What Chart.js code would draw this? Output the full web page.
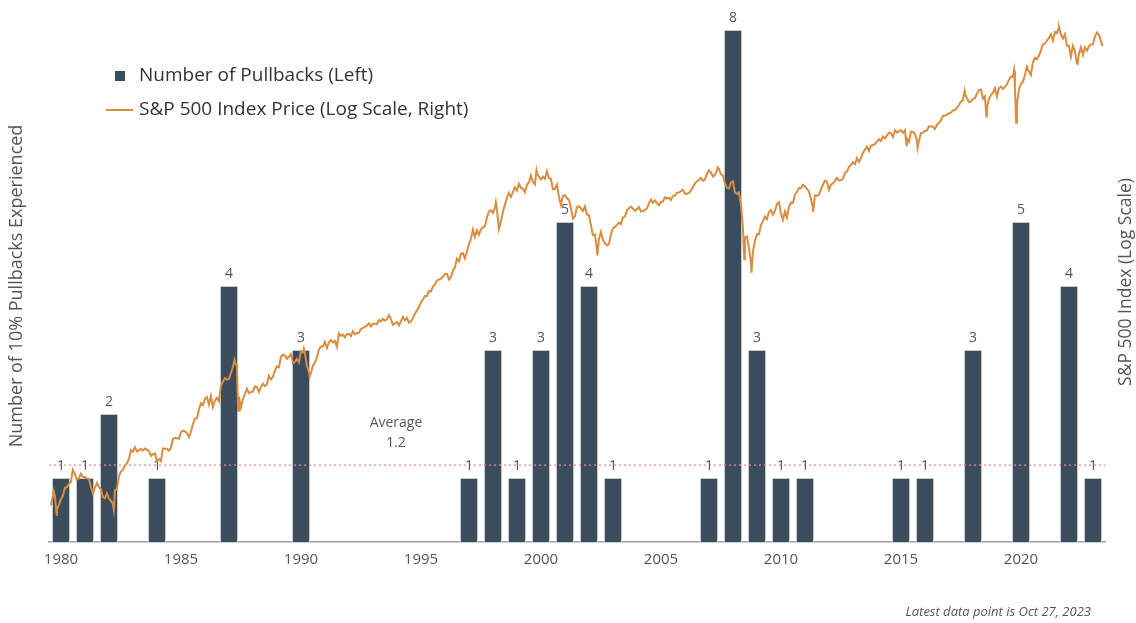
<!DOCTYPE html>
<html>
<head>
<meta charset="utf-8">
<title>10% Pullbacks and the S&amp;P 500</title>
<script src="https://cdn.jsdelivr.net/npm/chart.js@4.4.0/dist/chart.umd.min.js"></script>
<style>
html, body { margin: 0; padding: 0; background: #fff; }
#chartBox { position: relative; width: 1136px; height: 623px; }
</style>
</head>
<body>
<div id="chartBox"><canvas id="pullbackChart"></canvas></div>
<script>
/* categories */
var years = [1980, 1981, 1982, 1983, 1984, 1985, 1986, 1987, 1988, 1989,
	1990, 1991, 1992, 1993, 1994, 1995, 1996, 1997, 1998, 1999,
	2000, 2001, 2002, 2003, 2004, 2005, 2006, 2007, 2008, 2009,
	2010, 2011, 2012, 2013, 2014, 2015, 2016, 2017, 2018, 2019,
	2020, 2021, 2022, 2023];

/* number of 10% pullbacks per year (left axis) */
var pullbacks = [1, 1, 2, 0, 1, 0, 0, 4, 0, 0,
	3, 0, 0, 0, 0, 0, 0, 1, 3, 1,
	3, 5, 4, 1, 0, 0, 0, 1, 8, 3,
	1, 1, 0, 0, 0, 1, 1, 0, 3, 0,
	5, 0, 4, 1];

var averagePullbacks = 1.2;

/* S&P 500 month-end closes, Jan 1980 .. Sep 2023 (right axis, log) */
var spxMonthEnd = [
	114.2, 113.7, 102.1, 106.3, 111.2, 114.2, 121.7, 122.4, 125.5, 127.5, 140.5, 135.8,
	129.6, 131.3, 136.0, 132.8, 132.6, 131.2, 130.9, 122.8, 116.2, 121.9, 126.4, 122.6,
	120.4, 113.1, 112.0, 116.4, 111.9, 109.6, 107.1, 119.5, 120.4, 133.7, 138.5, 140.6,
	145.3, 148.1, 153.0, 164.4, 162.4, 168.1, 162.6, 164.4, 166.1, 163.6, 166.4, 164.9,
	163.4, 157.1, 159.2, 160.1, 150.6, 153.2, 150.7, 166.7, 166.1, 166.1, 163.6, 167.2,
	179.6, 181.2, 180.7, 179.8, 189.6, 191.9, 190.9, 188.6, 182.1, 189.8, 202.2, 211.3,
	211.8, 226.9, 238.9, 235.5, 247.4, 250.8, 236.1, 252.9, 231.3, 244.0, 249.2, 242.2,
	274.1, 284.2, 291.7, 288.4, 290.1, 304.0, 318.7, 329.8, 321.8, 251.8, 230.3, 247.1,
	257.1, 267.8, 258.9, 261.3, 262.2, 273.5, 272.0, 261.5, 271.9, 279.0, 273.7, 277.7,
	297.5, 288.9, 294.9, 309.6, 320.5, 318.0, 346.1, 351.5, 349.2, 340.4, 346.0, 353.4,
	329.1, 331.9, 339.9, 330.8, 361.2, 358.0, 356.2, 322.6, 306.1, 304.0, 322.2, 330.2,
	343.9, 367.1, 375.2, 375.3, 389.8, 371.2, 387.8, 395.4, 387.9, 392.5, 375.2, 417.1,
	408.8, 412.7, 403.7, 415.0, 415.4, 408.1, 424.2, 414.0, 417.8, 418.7, 431.4, 435.7,
	438.8, 443.4, 451.7, 440.2, 450.2, 450.5, 448.1, 463.6, 458.9, 467.8, 461.8, 466.5,
	481.6, 467.1, 445.8, 450.9, 456.5, 444.3, 458.3, 475.5, 462.7, 472.4, 453.7, 459.3,
	470.4, 487.4, 500.7, 514.7, 533.4, 544.8, 562.1, 561.9, 584.4, 581.5, 605.4, 615.9,
	636.0, 640.4, 645.5, 654.2, 669.1, 670.6, 640.0, 652.0, 687.3, 705.3, 757.0, 740.7,
	786.2, 790.8, 757.1, 801.3, 848.3, 885.1, 954.3, 899.5, 947.3, 914.6, 955.4, 970.4,
	980.3, 1049.3, 1101.8, 1111.8, 1090.8, 1133.8, 1120.7, 957.3, 1017.0, 1098.7, 1163.6, 1229.2,
	1279.6, 1238.3, 1286.4, 1335.2, 1301.8, 1372.7, 1328.7, 1320.4, 1282.7, 1362.9, 1388.9, 1469.3,
	1394.5, 1366.4, 1498.6, 1452.4, 1420.6, 1454.6, 1430.8, 1517.7, 1436.5, 1429.4, 1315.2, 1320.3,
	1366.0, 1239.9, 1160.3, 1249.5, 1255.8, 1224.4, 1211.2, 1133.6, 1040.9, 1059.8, 1139.5, 1148.1,
	1130.2, 1106.7, 1147.4, 1076.9, 1067.1, 989.8, 911.6, 916.1, 815.3, 885.8, 936.3, 879.8,
	855.7, 841.2, 848.2, 916.9, 963.6, 974.5, 990.3, 1008.0, 996.0, 1050.7, 1058.2, 1111.9,
	1131.1, 1144.9, 1126.2, 1107.3, 1120.7, 1140.8, 1101.7, 1104.2, 1114.6, 1130.2, 1173.8, 1211.9,
	1181.3, 1203.6, 1180.6, 1156.9, 1191.5, 1191.3, 1234.2, 1220.3, 1228.8, 1207.0, 1249.5, 1248.3,
	1280.1, 1280.7, 1294.9, 1310.6, 1270.1, 1270.2, 1276.7, 1303.8, 1335.9, 1377.9, 1400.6, 1418.3,
	1438.2, 1406.8, 1420.9, 1482.4, 1530.6, 1503.4, 1455.3, 1474.0, 1526.8, 1549.4, 1481.1, 1468.4,
	1378.6, 1330.6, 1322.7, 1385.6, 1400.4, 1280.0, 1267.4, 1282.8, 1166.4, 968.8, 896.2, 903.3,
	825.9, 735.1, 797.9, 872.8, 919.1, 919.3, 987.5, 1020.6, 1057.1, 1036.2, 1095.6, 1115.1,
	1073.9, 1104.5, 1169.4, 1186.7, 1089.4, 1030.7, 1101.6, 1049.3, 1141.2, 1183.3, 1180.6, 1257.6,
	1286.1, 1327.2, 1325.8, 1363.6, 1345.2, 1320.6, 1292.3, 1218.9, 1131.4, 1253.3, 1247.0, 1257.6,
	1312.4, 1365.7, 1408.5, 1397.9, 1310.3, 1362.2, 1379.3, 1406.6, 1440.7, 1412.2, 1416.2, 1426.2,
	1498.1, 1514.7, 1569.2, 1597.6, 1630.7, 1606.3, 1685.7, 1633.0, 1681.6, 1756.5, 1805.8, 1848.4,
	1782.6, 1859.5, 1872.3, 1884.0, 1923.6, 1960.2, 1930.7, 2003.4, 1972.3, 2018.1, 2067.6, 2058.9,
	1995.0, 2104.5, 2067.9, 2085.5, 2107.4, 2063.1, 2103.8, 1972.2, 1920.0, 2079.4, 2080.4, 2043.9,
	1940.2, 1932.2, 2059.7, 2065.3, 2097.0, 2098.9, 2173.6, 2171.0, 2168.3, 2126.2, 2198.8, 2238.8,
	2278.9, 2363.6, 2362.7, 2384.2, 2411.8, 2423.4, 2470.3, 2471.7, 2519.4, 2575.3, 2647.6, 2673.6,
	2823.8, 2713.8, 2640.9, 2648.1, 2705.3, 2718.4, 2816.3, 2901.5, 2914.0, 2711.7, 2760.2, 2506.9,
	2704.1, 2784.5, 2834.4, 2945.8, 2752.1, 2941.8, 2980.4, 2926.5, 2976.7, 3037.6, 3141.0, 3230.8,
	3225.5, 2954.2, 2584.6, 2912.4, 3044.3, 3100.3, 3271.1, 3500.3, 3363.0, 3270.0, 3621.6, 3756.1,
	3714.2, 3811.2, 3972.9, 4181.2, 4204.1, 4297.5, 4395.3, 4522.7, 4307.5, 4605.4, 4567.0, 4766.2,
	4515.6, 4373.9, 4530.4, 4131.9, 4132.2, 3785.4, 4130.3, 3955.0, 3585.6, 3872.0, 4080.1, 3839.5,
	4076.6, 3970.2, 4109.3, 4169.5, 4179.8, 4450.4, 4589.0, 4507.7, 4288.1
];

/* peaks / troughs between month ends, [decimal year, close] */
var spxTurns = [
	[1980.00, 105.8], [1980.12, 118.4], [1980.24, 98.2], [1980.91, 140.5],
	[1982.62, 102.4], [1987.65, 336.8], [1987.80, 224.8], [1990.54, 369.0],
	[1990.78, 295.5], [1998.54, 1186.8], [2000.23, 1527.5], [2002.77, 776.8],
	[2007.78, 1565.2], [2008.89, 752.4], [2009.19, 676.5], [2011.76, 1099.2],
	[2015.65, 1867.6], [2016.11, 1829.1], [2018.07, 2872.9], [2018.98, 2351.1],
	[2020.13, 3386.2], [2020.22, 2237.4], [2022.00, 4796.6], [2022.78, 3577.0],
	[2023.82, 4117.4]
];

var fontFamily = "'Open Sans', 'Noto Sans', sans-serif";
var barColor = '#3b4c5d';
var lineColor = '#d98d3e';
var textColor = '#555';

// S&P series as {x: decimal year, y: close}
var spxPoints = [];
for (var i = 0; i < spxMonthEnd.length; i++) {
	spxPoints.push({ x: 1980 + (i + 1) / 12, y: spxMonthEnd[i] });
}
for (var j = 0; j < spxTurns.length; j++) {
	spxPoints.push({ x: spxTurns[j][0], y: spxTurns[j][1] });
}
spxPoints.sort(function(a, b) { return a.x - b.x; });

/* average line, bar labels, axis titles, legend */
var decorPlugin = {
	id: 'decor',
	afterDatasetDraw: function(chart, args) {
		if (args.index !== 0) return;
		var ctx = chart.ctx;
		var area = chart.chartArea;
		var yAvg = chart.scales.y.getPixelForValue(averagePullbacks);

		ctx.save();
		ctx.strokeStyle = '#e7898a';
		ctx.lineWidth = 1.2;
		ctx.setLineDash([2, 3]);
		ctx.beginPath();
		ctx.moveTo(area.left, yAvg);
		ctx.lineTo(area.right, yAvg);
		ctx.stroke();
		ctx.setLineDash([]);

		ctx.fillStyle = textColor;
		ctx.font = '14px ' + fontFamily;
		ctx.textAlign = 'center';
		ctx.textBaseline = 'middle';
		ctx.fillText('Average', 396, 423);
		ctx.fillText(String(averagePullbacks), 396, 443);

		// counts above bars
		ctx.font = '14px ' + fontFamily;
		ctx.textBaseline = 'bottom';
		args.meta.data.forEach(function(bar, k) {
			if (!pullbacks[k]) return;
			ctx.fillText(String(pullbacks[k]), bar.x, bar.y - 5);
		});
		ctx.restore();
	},
	afterDraw: function(chart) {
		var ctx = chart.ctx;
		ctx.save();
		ctx.fillStyle = textColor;
		ctx.font = '18px ' + fontFamily;
		ctx.textAlign = 'center';
		ctx.textBaseline = 'middle';

		ctx.save();
		ctx.translate(17, 286);
		ctx.rotate(-Math.PI / 2);
		ctx.fillText('Number of 10% Pullbacks Experienced', 0, 0);
		ctx.restore();

		ctx.save();
		ctx.translate(1126, 282);
		ctx.rotate(-Math.PI / 2);
		ctx.font = '17.5px ' + fontFamily;
		ctx.fillText('S&P 500 Index (Log Scale)', 0, 0);
		ctx.restore();

		// legend
		ctx.fillStyle = barColor;
		ctx.fillRect(115, 71, 10, 10);
		ctx.strokeStyle = lineColor;
		ctx.lineWidth = 2;
		ctx.beginPath();
		ctx.moveTo(106, 110);
		ctx.lineTo(133, 110);
		ctx.stroke();
		ctx.fillStyle = '#333';
		ctx.font = '19px ' + fontFamily;
		ctx.textAlign = 'left';
		ctx.fillText('Number of Pullbacks (Left)', 139, 76);
		ctx.fillText('S&P 500 Index Price (Log Scale, Right)', 139, 110);

		// footnote
		ctx.fillStyle = textColor;
		ctx.font = 'italic 13px ' + fontFamily;
		ctx.textAlign = 'right';
		ctx.fillText('Latest data point is Oct 27, 2023', 1091, 612);
		ctx.restore();
	}
};

var ctx = document.getElementById('pullbackChart').getContext('2d');
var pullbackChart = new Chart(ctx, {
	type: 'bar',
	data: {
		labels: years,
		datasets: [{
			type: 'bar',
			label: 'Number of Pullbacks (Left)',
			data: pullbacks,
			backgroundColor: barColor,
			borderColor: '#c3cad1',
			borderWidth: 1,
			barPercentage: 0.75,
			categoryPercentage: 1.0,
			grouped: false,
			xAxisID: 'x',
			yAxisID: 'y',
			order: 1
		}, {
			type: 'line',
			label: 'S&P 500 Index Price (Log Scale, Right)',
			data: spxPoints,
			borderColor: lineColor,
			borderWidth: 2,
			pointRadius: 0,
			tension: 0,
			fill: false,
			clip: false,
			xAxisID: 'x2',
			yAxisID: 'y2',
			order: 0
		}]
	},
	options: {
		responsive: true,
		maintainAspectRatio: false,
		animation: false,
		layout: { padding: { left: 49, right: 31, top: 30, bottom: 0 } },
		plugins: {
			legend: { display: false },
			tooltip: { enabled: false }
		},
		scales: {
			x: {
				type: 'category',
				offset: true,
				grid: { display: false, drawTicks: false },
				border: { display: true, color: '#9c9c9c', width: 1.5 },
				ticks: {
					autoSkip: false,
					maxRotation: 0,
					padding: 9,
					color: textColor,
					font: { family: fontFamily, size: 15 },
					callback: function(value, index) {
						var yr = years[index];
						return yr % 5 === 0 ? String(yr) : '';
					}
				},
				afterFit: function(scale) { scale.height = 81; }
			},
			x2: {
				type: 'linear',
				offset: false,
				grid: { offset: false },
				min: 1979.92,
				max: 2023.92,
				display: false
			},
			y: { min: 0, max: 8, display: false },
			y2: { type: 'logarithmic', position: 'right', min: 79, max: 4683, display: false }
		}
	},
	plugins: [decorPlugin]
});
</script>
</body>
</html>
